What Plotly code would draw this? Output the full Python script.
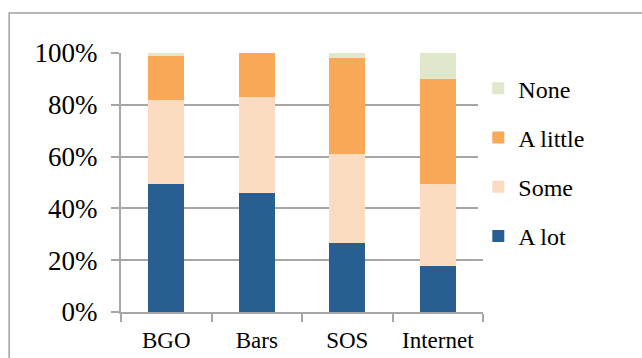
import plotly.graph_objects as go

categories = ["BGO", "Bars", "SOS", "Internet"]
a_lot = [49.4, 45.9, 26.8, 17.9]
some = [32.3, 37.0, 34.1, 31.5]
a_little = [17.1, 17.1, 37.2, 40.4]
none = [1.2, 0.0, 1.9, 10.2]

series = [
    ("A lot", a_lot, "#285E91"),
    ("Some", some, "#FBDCC1"),
    ("A little", a_little, "#F9A857"),
    ("None", none, "#DFE8CA"),
]

fig = go.Figure()
for i, (name, vals, color) in enumerate(series):
    fig.add_trace(go.Bar(
        x=categories, y=vals, name=name, legendgroup=f"g{i}",
        legendrank=100 - i,
        marker=dict(color=color, line=dict(width=0)),
        width=0.4,
    ))

font = "Liberation Serif, DejaVu Serif, serif"
fig.update_layout(
    barmode="stack",
    width=642, height=358,
    margin=dict(l=121, r=159, t=53, b=46),
    paper_bgcolor="white", plot_bgcolor="white",
    font=dict(family=font, size=20, color="black"),
    showlegend=True,
    legend=dict(
        traceorder="grouped", tracegroupgap=15,
        x=0.987, y=0.949, xanchor="left", yanchor="top",
        font=dict(family=font, size=24, color="black"),
        itemwidth=30,
    ),
    xaxis=dict(
        showgrid=False, showline=True, linecolor="#A6A6A6", linewidth=2,
        ticks="outside", tickson="boundaries", ticklen=8, tickcolor="#A6A6A6", tickwidth=2,
        tickfont=dict(size=23), range=[-0.5, 3.5], ticklabelstandoff=6,
        automargin=False,
    ),
    yaxis=dict(
        range=[0, 100], tickvals=[0, 20, 40, 60, 80, 100],
        ticktext=["0%", "20%", "40%", "60%", "80%", "100%"],
        showgrid=True, gridcolor="#A6A6A6", gridwidth=2,
        showline=True, linecolor="#A6A6A6", linewidth=2,
        ticks="outside", ticklen=8, tickcolor="#A6A6A6", tickwidth=2,
        ticklabelstandoff=8, tickfont=dict(size=27), zeroline=False,
        automargin=False,
    ),
    shapes=[dict(
        type="rect", xref="paper", yref="paper",
        x0=-0.309, y0=-0.5, x1=1.7, y1=1.154,
        line=dict(color="#A0A0A0", width=1.5), fillcolor="rgba(0,0,0,0)", layer="below",
    )],
)

fig.write_html("out.html")
